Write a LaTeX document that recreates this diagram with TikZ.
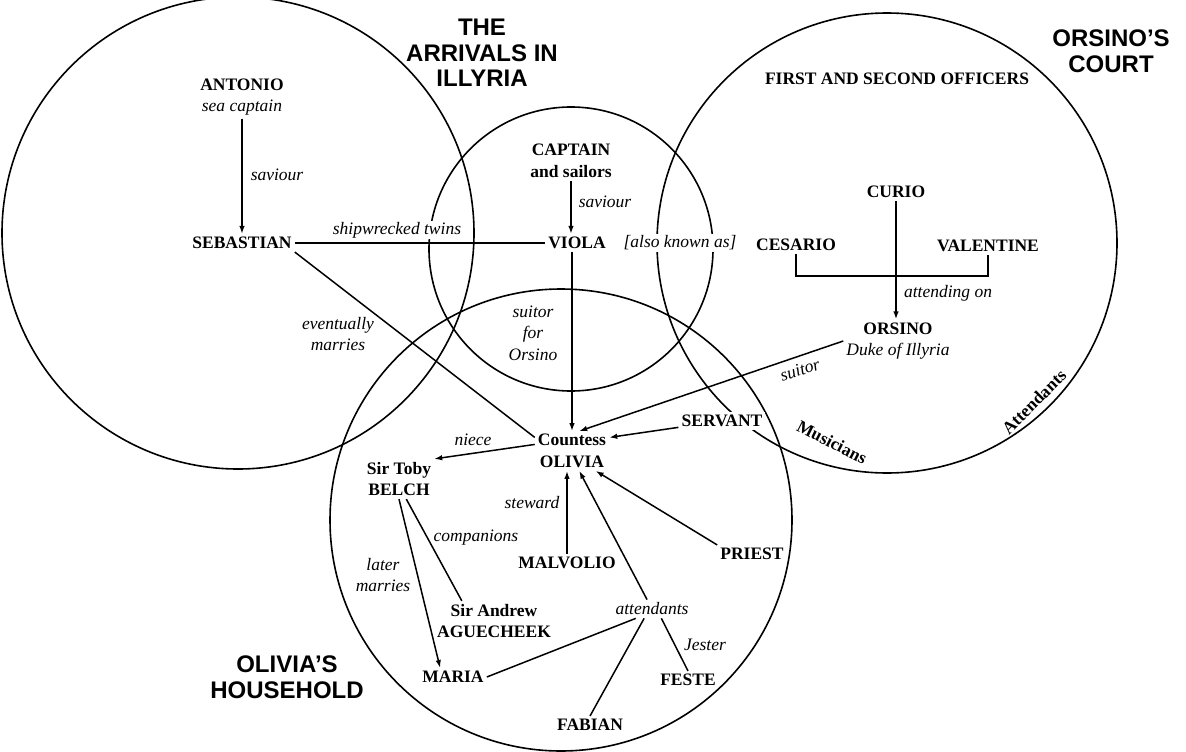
\documentclass[tikz,border=0pt]{standalone}
\usepackage{fontspec}
\setmainfont{Liberation Serif}
\newfontfamily\headfont{Liberation Sans}
\usetikzlibrary{arrows.meta}

\begin{document}
\begin{tikzpicture}[x=1pt,y=-1pt,
    font=\fontsize{17.5}{21.5}\selectfont,
    ring/.style={line width=1.6pt},
    who/.style={font=\fontsize{17.5}{21.5}\selectfont\bfseries, align=center, inner sep=3pt},
    tag/.style={font=\fontsize{17.5}{21.5}\selectfont\itshape, align=center, inner sep=1pt},
    group/.style={font=\headfont\fontsize{24}{25.5}\selectfont\bfseries, align=center},
    link/.style={line width=1.5pt},
    arr/.style={link, -{Latex[length=8pt,width=5.5pt]}}
]
    \fill[white] (0,0) rectangle (1186,752);
    \useasboundingbox (0,0) rectangle (1186,752);

    % the four circles
    \draw[ring] (238,233) circle[radius=236pt];
    \draw[ring] (571,249) circle[radius=142pt];
    \draw[ring] (887,243) circle[radius=230pt];
    \draw[ring] (561,520) circle[radius=231pt];

    % group titles
    \node[group] (arrivals)  at (482,53)  {THE\\ARRIVALS IN\\ILLYRIA};
    \node[group] (court)     at (1111,51) {ORSINO’S\\COURT};
    \node[group] (household) at (287,677) {OLIVIA’S\\HOUSEHOLD};

    % characters
    \node[who] (officers)  at (897,79)  {FIRST AND SECOND OFFICERS};
    \node[who] (antonio)   at (242,97)  {ANTONIO\\\mdseries\itshape sea captain};
    \node[who] (sebastian) at (242,243) {SEBASTIAN};
    \node[who] (captain)   at (571,161) {CAPTAIN\\and sailors};
    \node[who] (viola)     at (577,243) {VIOLA};
    \node[tag, fill=white, inner sep=2pt] (aka) at (680,243) {[also known as]};
    \node[who] (cesario)   at (796,245) {CESARIO};
    \node[who] (curio)     at (896,192) {CURIO};
    \node[who] (valentine) at (988,246) {VALENTINE};
    \coordinate (bar) at (896,276);
    \node[who] (orsino)    at (898,341) {ORSINO\\\mdseries\itshape Duke of Illyria};
    \node[who] (olivia)    at (572,451) {Countess\\OLIVIA};
    \node[who] (toby)      at (399,479) {Sir Toby\\BELCH};
    \node[who, fill=white] (servant) at (722,421) {SERVANT};
    \node[who] (malvolio)  at (567,563) {MALVOLIO};
    \node[who] (priest)    at (752,554) {PRIEST};
    \node[tag, inner sep=3pt] (attendants) at (652,609) {attendants};
    \node[who] (andrew)    at (494,621) {Sir Andrew\\AGUECHEEK};
    \node[who] (maria)     at (453,677) {MARIA};
    \node[who] (feste)     at (688,680) {FESTE};
    \node[who] (fabian)    at (590,725) {FABIAN};
    \node[who, rotate=-27] (musicians)   at (832,442)  {Musicians};
    \node[who, rotate=45]  (attendantsR) at (1034,402) {Attendants};

    % labels
    \node[tag] (saviourA)     at (277,175) {saviour};
    \node[tag, fill=white] (twins) at (397,230) {shipwrecked twins};
    \node[tag] (saviourB)     at (605,202) {saviour};
    \node[tag] (attending)    at (948,293) {attending on};
    \node[tag] (suitorfor)    at (533,333) {suitor\\for\\Orsino};
    \node[tag] (marries)      at (338,334) {eventually\\marries};
    \node[tag] (niece)        at (473,440) {niece};
    \node[tag, rotate=18] (suitor) at (800,370) {suitor};
    \node[tag] (steward)      at (532,503) {steward};
    \node[tag] (companions)   at (476,538) {companions};
    \node[tag] (latermarries) at (383,575) {later\\marries};
    \node[tag] (jester)       at (705,645) {Jester};

    % connectors
    \draw[arr]  (antonio) -- (sebastian);
    \draw[link] (sebastian) -- (viola);
    \draw[arr]  (captain) -- (captain |- viola.north);
    \draw[arr]  (viola.south -| olivia) -- (olivia.north);
    \draw[link] (cesario) |- (bar) -| (valentine);
    \draw[arr]  (curio) -- (curio |- orsino.north);
    \draw[arr]  (orsino.west) -- (olivia.70);
    \draw[link] (sebastian.south east) -- (olivia.160);
    \draw[arr]  (olivia.170) -- (toby.north east);
    \draw[arr]  (servant) -- (olivia.20);
    \draw[arr]  (malvolio) -- (malvolio |- olivia.south);
    \draw[arr]  (priest.north west) -- (olivia.-40);
    \draw[arr]  (attendants) -- (olivia.-70);
    \draw[link] (attendants.-150) -- (maria.east);
    \draw[link] (attendants.-130) -- (fabian.north);
    \draw[link] (attendants.-45) -- (feste.north);
    \draw[arr]  (toby.-90) -- (maria.145);
    \draw[link] (toby.-70) -- (andrew.148);
\end{tikzpicture}
\end{document}
